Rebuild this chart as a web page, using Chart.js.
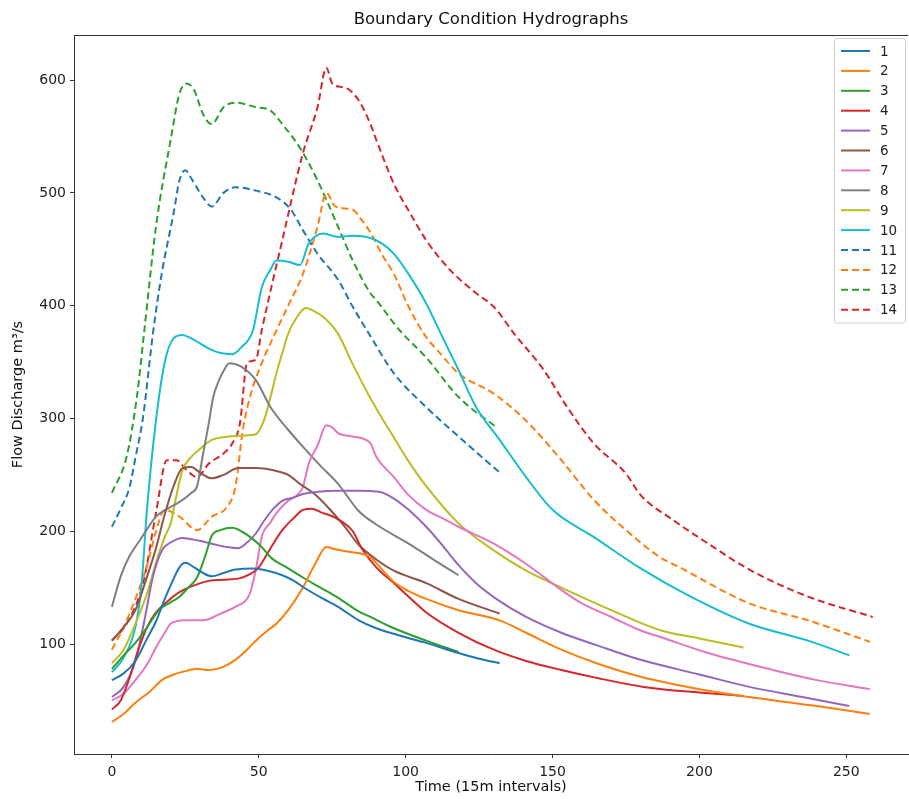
<!DOCTYPE html>
<html>
<head>
<meta charset="utf-8">
<title>Boundary Condition Hydrographs</title>
<script src="https://cdn.jsdelivr.net/npm/chart.js@4.4.1/dist/chart.umd.min.js"></script>
<style>
  html, body { margin: 0; padding: 0; background: #fff; }
  #wrap { width: 909px; height: 799px; }
</style>
</head>
<body>
<div id="wrap"><canvas id="hydro"></canvas></div>
<script>
// Hydrograph points: [time step, discharge m3/s]
const q1 = [[0,68],[4,74],[8,85],[12,105],[15,120],[18,140],[20,152],[23,168],[25,172],[28,168],[31,163],[34,160],[38,163],[42,166],[48,167],[53,165],[58,161],[62,156],[66,149],[72,140],[77,133],[84,121],[90,114],[100,106],[107,101],[118,92],[125,87],[132,83]];
const q2 = [[0,31],[4,38],[8,48],[13,58],[17,68],[21,73],[25,76],[29,78],[33,77],[38,80],[42,86],[46,95],[49,103],[53,112],[56,118],[60,130],[65,150],[69,170],[73,186],[76,184],[80,182],[85,180],[88,177],[92,166],[96,155],[101,147],[107,140],[118,130],[132,121],[141,110],[153,95],[165,83],[180,71],[200,60],[217,53],[240,45],[258,38]];
const q3 = [[0,78],[4,90],[8,101],[12,115],[16,130],[20,137],[23,142],[26,150],[29,159],[32,180],[34,196],[37,201],[41,203],[44,200],[47,195],[51,186],[54,177],[60,167],[65,159],[71,150],[77,141],[84,129],[88,124],[96,114],[107,103],[118,93]];
const q4 = [[0,42],[3,50],[6,70],[9,95],[12,115],[15,128],[19,138],[23,146],[28,152],[33,156],[38,157],[43,158],[47,162],[50,168],[54,185],[58,201],[62,212],[65,219],[68,220],[71,217],[76,212],[82,200],[85,185],[90,168],[96,154],[101,142],[107,128],[118,110],[130,95],[141,85],[153,77],[165,70],[181,62],[200,57],[215,54]];
const q5 = [[0,53],[4,62],[8,85],[11,120],[14,160],[17,183],[20,190],[24,194],[29,192],[34,189],[39,186],[43,185],[46,190],[49,198],[52,210],[55,220],[58,227],[62,230],[65,233],[70,235],[77,236],[84,236],[91,235],[96,229],[101,219],[107,204],[113,186],[118,170],[124,154],[132,138],[141,124],[153,110],[165,99],[180,86],[200,73],[217,62],[235,53],[251,45]];
const q6 = [[0,103],[4,115],[8,130],[12,160],[15,185],[18,215],[21,240],[24,256],[27,257],[30,252],[34,247],[38,250],[43,256],[49,256],[55,254],[60,250],[64,242],[69,233],[74,220],[79,205],[84,188],[90,175],[96,165],[107,154],[118,140],[132,127]];
const q7 = [[0,50],[4,56],[8,68],[12,82],[15,97],[18,110],[20,118],[25,121],[31,121],[37,127],[42,133],[47,145],[49,166],[51,195],[54,208],[56,216],[60,227],[63,232],[65,239],[67,260],[70,276],[73,294],[75,292],[77,287],[82,284],[88,278],[90,266],[96,248],[101,232],[107,219],[113,211],[118,204],[130,189],[141,171],[153,148],[160,136],[170,124],[180,112],[187,106],[203,92],[225,77],[240,68],[258,60]];
const q8 = [[0,133],[3,160],[6,178],[9,190],[12,202],[15,213],[19,220],[23,226],[27,234],[29,240],[31,268],[33,296],[34.5,319],[36,331],[38,342],[40,349],[44,346],[49,334],[54,310],[60,290],[65,275],[71,258],[77,242],[84,218],[90,206],[101,189],[110,174],[118,161]];
const q9 = [[0,83],[4,95],[8,118],[12,145],[15,172],[18,195],[20,207],[22,232],[24,254],[27,266],[30,273],[34,281],[40,284],[46,285],[49,286],[52,300],[54,319],[56,340],[58,358],[60,375],[63,390],[66,398],[69,395],[72,390],[77,375],[82,348],[88,318],[96,283],[101,262],[107,240],[118,207],[130,183],[141,165],[153,150],[170,130],[187,112],[200,105],[215,97]];
const q10 = [[0,75],[4,88],[8,115],[10,150],[12,221],[15,298],[18,350],[21,371],[24,374],[27,371],[33,362],[37,358],[41,357],[44,363],[48,378],[51,416],[54,432],[56,440],[60,439],[64,436],[67,455],[72,464],[77,461],[82,462],[88,460],[92,455],[96,446],[101,428],[107,402],[112,375],[118,343],[124,310],[132,281],[141,248],[150,219],[164,195],[180,167],[197,142],[217,118],[237,103],[251,90]];
const q11 = [[0,204],[3,220],[6,239],[8,265],[10.6,301],[14,376],[17,429],[21,482],[23,511],[25,520],[27,513],[31,496],[34,488],[38,500],[42,505],[49,502],[56,496],[61,485],[65,467],[70,446],[77,423],[82,399],[88,373],[96,340],[107,310],[118,284],[132,252]];
const q12 = [[0,95],[4,115],[8,140],[12,170],[15,200],[18,219],[23,213],[29,201],[34,213],[39,221],[42,239],[44.6,290],[47,319],[51,349],[56,378],[60,400],[65,428],[70,470],[73,500],[76,488],[82,485],[85,476],[88,465],[92,445],[96,428],[101,399],[107,372],[111,360],[118,340],[130,322],[141,298],[153,263],[164,228],[175,201],[186,178],[194,167],[217,136],[237,121],[258,102]];
const q13 = [[0,234],[5,266],[8.5,319],[11,377],[15,470],[20,547],[23,588],[25.5,597],[28,591],[31,570],[34,561],[38,576],[42,580],[49,576],[54,573],[58,561],[64,540],[70,511],[77,470],[82,440],[88,411],[90,405],[98,378],[107,354],[118,319],[131,292]];
const q14 = [[0,103],[5,118],[10.6,154],[15,216],[18.7,263],[22,263],[25.5,254],[29,248],[33,260],[38,269],[41,278],[43.6,296],[46,349],[49,352],[51,378],[58,458],[65,535],[70,576],[73,611],[75,597],[78,594],[81,591],[84.5,580],[88,561],[90,547],[96,508],[101.5,482],[107,458],[115,432],[124,411],[130,399],[137,375],[147,343],[155,310],[164,278],[175,251],[180,232],[191,210],[203,189],[217,166],[237,142],[259,124]];

const seriesLabels = ['1', '2', '3', '4', '5', '6', '7', '8', '9', '10', '11', '12', '13', '14'];
const xTicks = [0, 50, 100, 150, 200, 250];
const yTicks = [100, 200, 300, 400, 500, 600];

const allSeries = [q1, q2, q3, q4, q5, q6, q7, q8, q9, q10, q11, q12, q13, q14];
// matplotlib tab10, first four reused dashed for 11-14
const tab10 = ['#1f77b4', '#ff7f0e', '#2ca02c', '#d62728', '#9467bd', '#8c564b', '#e377c2', '#7f7f7f', '#bcbd22', '#17becf'];
const DASH = [7, 4];
const FONT = '"DejaVu Sans", sans-serif';

const datasets = allSeries.map((pts, i) => ({
  label: seriesLabels[i],
  data: pts.map(([x, y]) => ({ x, y })),
  borderColor: tab10[i % 10],
  backgroundColor: tab10[i % 10],
  borderWidth: 2,
  borderDash: i >= 10 ? DASH : [],
  pointRadius: 0,
  cubicInterpolationMode: 'monotone',
  fill: false
}));

/**
 * Legend drawn inside the axes, upper right, like matplotlib
 */
const boxLegend = {
  id: 'boxLegend',
  afterDraw(chart) {
    const { ctx, chartArea } = chart;
    const rowH = 19.9;
    const w = 71;
    const h = rowH * datasets.length + 6;
    const x0 = chartArea.right - w - 3;
    const y0 = chartArea.top + 3;

    ctx.save();
    ctx.fillStyle = 'rgba(255,255,255,0.85)';
    ctx.strokeStyle = '#d0d0d0';
    ctx.lineWidth = 1;
    ctx.beginPath();
    ctx.roundRect(x0 + 0.5, y0 + 0.5, w, h, 3);
    ctx.fill();
    ctx.stroke();

    ctx.font = '13.5px ' + FONT;
    ctx.textBaseline = 'middle';
    ctx.textAlign = 'left';
    chart.data.datasets.forEach((ds, i) => {
      const y = y0 + 13 + i * rowH;
      ctx.strokeStyle = ds.borderColor;
      ctx.lineWidth = 2;
      ctx.setLineDash(ds.borderDash);
      ctx.beginPath();
      ctx.moveTo(x0 + 7, y);
      ctx.lineTo(x0 + 36, y);
      ctx.stroke();
      ctx.setLineDash([]);
      ctx.fillStyle = '#222';
      ctx.fillText(ds.label, x0 + 46, y + 1);
    });
    ctx.restore();
  }
};

/**
 * Top spine of the axes box
 */
const topSpine = {
  id: 'topSpine',
  afterDraw(chart) {
    const { ctx, chartArea } = chart;
    ctx.save();
    ctx.strokeStyle = '#333';
    ctx.lineWidth = 1;
    ctx.beginPath();
    ctx.moveTo(chartArea.left, chartArea.top + 0.5);
    ctx.lineTo(chartArea.right, chartArea.top + 0.5);
    ctx.stroke();
    ctx.restore();
  }
};

new Chart(document.getElementById('hydro'), {
  type: 'line',
  data: { datasets },
  plugins: [boxLegend, topSpine],
  options: {
    responsive: true,
    maintainAspectRatio: false,
    animation: false,
    layout: { padding: { top: 0, right: 1, left: 0, bottom: 0 } },
    plugins: {
      legend: { display: false },
      tooltip: { enabled: false },
      title: {
        display: true,
        fullSize: false,
        text: 'Boundary Condition Hydrographs',
        color: '#111',
        font: { family: FONT, size: 16.5, weight: 'normal' },
        padding: { top: 10, bottom: 5.2 }
      }
    },
    scales: {
      x: {
        type: 'linear',
        min: -12.9,
        max: 271,
        afterBuildTicks: (scale) => { scale.ticks = xTicks.map(v => ({ value: v })); },
        afterFit: (scale) => { scale.height = 45; },
        grid: { display: true, drawOnChartArea: false, drawTicks: true, tickLength: 4, color: '#333' },
        border: { display: true, color: '#333', width: 1 },
        ticks: { color: '#222', padding: 6, font: { family: FONT, size: 14 }, maxRotation: 0 },
        title: {
          display: true,
          text: 'Time (15m intervals)',
          color: '#111',
          font: { family: FONT, size: 14.5 },
          padding: { top: 0, bottom: 3.3 }
        }
      },
      y: {
        type: 'linear',
        min: 2.5,
        max: 640,
        afterBuildTicks: (scale) => { scale.ticks = yTicks.map(v => ({ value: v })); },
        afterFit: (scale) => { scale.width = 74; },
        grid: { display: true, drawOnChartArea: false, drawTicks: true, tickLength: 4, color: '#333' },
        border: { display: true, color: '#333', width: 1 },
        ticks: { color: '#222', padding: 4, font: { family: FONT, size: 14 } },
        title: {
          display: true,
          text: 'Flow Discharge m³/s',
          color: '#111',
          font: { family: FONT, size: 14.5 },
          padding: { top: 9.3, bottom: 0 }
        }
      }
    }
  }
});
</script>
</body>
</html>
